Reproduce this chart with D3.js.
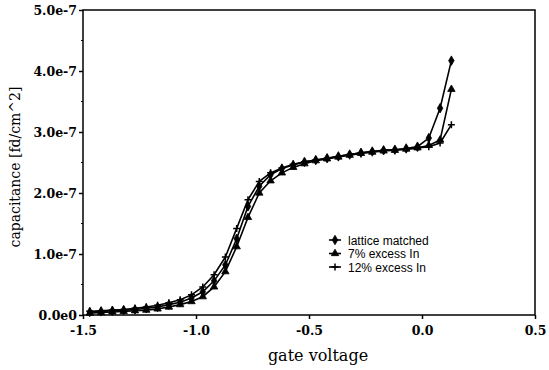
<!DOCTYPE html>
<html>
<head>
<meta charset="utf-8">
<script src="https://cdn.jsdelivr.net/npm/d3@7"></script>
<style>
  body { margin: 0; background: #fff; }
  svg { display: block; }
</style>
</head>
<body>
<svg id="chart" width="549" height="370"></svg>
<script>
// gate voltage for each measured point
const voltage = [-1.47, -1.42, -1.37, -1.32, -1.27, -1.22, -1.17, -1.12, -1.07, -1.02,
  -0.97, -0.92, -0.87, -0.82, -0.77, -0.72, -0.67, -0.62, -0.57, -0.52,
  -0.47, -0.42, -0.37, -0.32, -0.27, -0.22, -0.17, -0.12, -0.07, -0.02,
  0.03, 0.08, 0.13];

// capacitance, units of 1e-7 fd/cm^2
const latticeMatched = [0.05, 0.06, 0.07, 0.08, 0.09, 0.11, 0.13, 0.17, 0.21, 0.28,
  0.38, 0.56, 0.82, 1.25, 1.78, 2.11, 2.30, 2.40, 2.46, 2.51,
  2.54, 2.57, 2.60, 2.63, 2.66, 2.68, 2.70, 2.71, 2.73, 2.76,
  2.90, 3.39, 4.17];
const excess7 = [0.03, 0.04, 0.05, 0.06, 0.07, 0.08, 0.10, 0.13, 0.17, 0.22,
  0.30, 0.46, 0.71, 1.12, 1.60, 2.00, 2.20, 2.33, 2.42, 2.48,
  2.53, 2.56, 2.59, 2.62, 2.65, 2.67, 2.69, 2.70, 2.72, 2.74,
  2.78, 2.87, 3.70];
const excess12 = [0.06, 0.07, 0.08, 0.09, 0.11, 0.13, 0.16, 0.20, 0.25, 0.33,
  0.46, 0.66, 0.95, 1.42, 1.89, 2.19, 2.33, 2.41, 2.47, 2.51,
  2.54, 2.57, 2.60, 2.63, 2.66, 2.68, 2.70, 2.71, 2.72, 2.74,
  2.76, 2.82, 3.12];

const seriesNames = ["lattice matched", "7% excess In", "12% excess In"];
const xTicks = [-1.5, -1.0, -0.5, 0.0, 0.5];
const xTickLabels = ["-1.5", "-1.0", "-0.5", "0.0", "0.5"];
const yTicks = [0, 1e-7, 2e-7, 3e-7, 4e-7, 5e-7];
const yTickLabels = ["0.0e0", "1.0e-7", "2.0e-7", "3.0e-7", "4.0e-7", "5.0e-7"];

const series = [
  { name: seriesNames[0], values: latticeMatched, symbol: d3.symbolDiamond, size: 26, fill: "#000" },
  { name: seriesNames[1], values: excess7, symbol: d3.symbolTriangle, size: 24, fill: "#000" },
  { name: seriesNames[2], values: excess12, symbol: d3.symbolCross, size: 0, fill: "none" }
];

const plotLeft = 83, plotRight = 535, plotTop = 10, plotBottom = 315;
const svg = d3.select("#chart");

const x = d3.scaleLinear().domain([-1.5, 0.5]).range([plotLeft, plotRight]);
const y = d3.scaleLinear().domain([0, 5e-7]).range([plotBottom, plotTop]);

// frame
svg.append("rect")
  .attr("x", plotLeft).attr("y", plotTop)
  .attr("width", plotRight - plotLeft).attr("height", plotBottom - plotTop)
  .attr("fill", "none").attr("stroke", "#000").attr("stroke-width", 1.5);

// y axis
const yAxis = d3.axisLeft(y)
  .tickValues(yTicks)
  .tickFormat((d, i) => yTickLabels[i])
  .tickSize(4).tickPadding(2);
const yg = svg.append("g").attr("transform", `translate(${plotLeft},0)`).call(yAxis);
yg.select(".domain").remove();

// minor y ticks
svg.append("g").selectAll("line")
  .data(d3.range(0.5e-7, 5e-7, 1e-7))
  .join("line")
  .attr("x1", plotLeft - 2).attr("x2", plotLeft)
  .attr("y1", d => y(d)).attr("y2", d => y(d))
  .attr("stroke", "#000").attr("stroke-width", 1.2);

// x axis
const xAxis = d3.axisBottom(x)
  .tickValues(xTicks)
  .tickFormat((d, i) => xTickLabels[i])
  .tickSize(4).tickPadding(7);
const xg = svg.append("g").attr("transform", `translate(0,${plotBottom})`).call(xAxis);
xg.select(".domain").remove();

[yg, xg].forEach(g => {
  g.selectAll("line").attr("stroke", "#000").attr("stroke-width", 1.5);
  g.selectAll("text")
    .attr("fill", "#000")
    .style("font-family", "'DejaVu Serif', serif")
    .style("font-weight", "bold")
    .style("font-size", "12.5px");
});

// axis titles
svg.append("text")
  .attr("x", 318).attr("y", 361)
  .attr("text-anchor", "middle")
  .style("font-family", "'DejaVu Serif', serif")
  .style("font-size", "16px")
  .text("gate voltage");

svg.append("text")
  .attr("transform", `translate(20,167) rotate(-90)`)
  .attr("text-anchor", "middle")
  .style("font-family", "'DejaVu Serif', serif")
  .style("font-size", "14px")
  .text("capacitance [fd/cm^2]");

// lines + markers
const line = d3.line()
  .x((d, i) => x(voltage[i]))
  .y(d => y(d * 1e-7));

function drawMarker(sel, s) {
  if (s.symbol === d3.symbolCross) {
    sel.append("path")
      .attr("d", "M-3.5,0H3.5M0,-3.5V3.5")
      .attr("stroke", "#000").attr("stroke-width", 1.5).attr("fill", "none");
  } else {
    sel.append("path")
      .attr("d", d3.symbol(s.symbol, s.size))
      .attr("fill", s.fill).attr("stroke", "#000").attr("stroke-width", 0.8);
  }
}

series.forEach(s => {
  svg.append("path")
    .datum(s.values)
    .attr("d", line)
    .attr("fill", "none")
    .attr("stroke", "#000")
    .attr("stroke-width", 1.6);

  svg.append("g").selectAll("g")
    .data(s.values)
    .join("g")
    .attr("transform", (d, i) => `translate(${x(voltage[i])},${y(d * 1e-7)})`)
    .each(function() { drawMarker(d3.select(this), s); });
});

// legend
const legend = svg.append("g").attr("transform", "translate(329,240)");
series.forEach((s, i) => {
  const row = legend.append("g").attr("transform", `translate(0,${i * 13.5})`);
  row.append("line")
    .attr("x1", 0).attr("x2", 12)
    .attr("stroke", "#000").attr("stroke-width", 1.6);
  const m = row.append("g").attr("transform", "translate(6,0)");
  drawMarker(m, s);
  row.append("text")
    .attr("x", 19).attr("y", 4.5)
    .style("font-family", "'Liberation Sans', Arial, sans-serif")
    .style("font-size", "12px")
    .text(s.name);
});
</script>
</body>
</html>
